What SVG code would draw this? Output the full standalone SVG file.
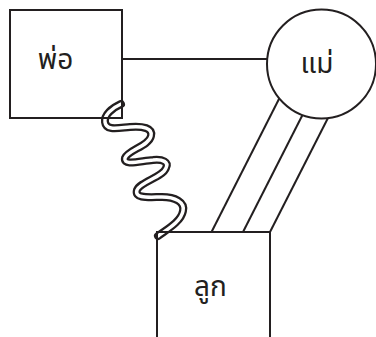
<svg xmlns="http://www.w3.org/2000/svg" width="376" height="337" viewBox="0 0 376 337">
<style>
.shape{fill:none;stroke:#231f20;stroke-width:2}
.line{stroke:#231f20;stroke-width:2;fill:none}
.tubeo{fill:none;stroke:#231f20;stroke-width:8;stroke-linecap:round}
.tubei{fill:none;stroke:#fff;stroke-width:3.5;stroke-linecap:round}
.lbl{font-family:"Noto Sans Thai","Noto Sans","DejaVu Sans",sans-serif;font-size:28px;fill:#231f20;text-anchor:middle}
</style>
<rect width="376" height="337" fill="#fff"/>
<g id="connectors">
<line class="line" x1="122" y1="59" x2="268" y2="59"/>
<line class="line" x1="211.5" y1="232" x2="280.5" y2="96"/>
<line class="line" x1="243" y1="232" x2="304" y2="112"/>
<line class="line" x1="270" y1="232" x2="330" y2="114"/>
<g id="spring">
<path class="tubeo" d="M121,104 C112,108 104,115 105,122 C106,131 118,128 130,127 C143,126 153,128 151,136 C149,146 128,150 125,158 C123,166 140,161 153,160 C163,159 169,162 166,168 C163,177 140,182 137,190 C134,199 150,197 162,197 C175,197 185,202 183,211 C181,222 166,230 158,236"/>
<path class="tubei" d="M121,104 C112,108 104,115 105,122 C106,131 118,128 130,127 C143,126 153,128 151,136 C149,146 128,150 125,158 C123,166 140,161 153,160 C163,159 169,162 166,168 C163,177 140,182 137,190 C134,199 150,197 162,197 C175,197 185,202 183,211 C181,222 166,230 158,236"/>
</g>
</g>
<g id="father">
<rect class="shape" x="10" y="10" width="112" height="108"/>
<text class="lbl" x="55.5" y="69">พ่อ</text>
</g>
<g id="mother">
<circle class="shape" cx="321.5" cy="64" r="54.5" style="fill:#fff"/>
<text class="lbl" x="317" y="72.5">แม่</text>
</g>
<g id="child">
<path class="shape" d="M157,340 V232 H270 V340"/>
<text class="lbl" x="210.5" y="295.5">ลูก</text>
</g>
</svg>
